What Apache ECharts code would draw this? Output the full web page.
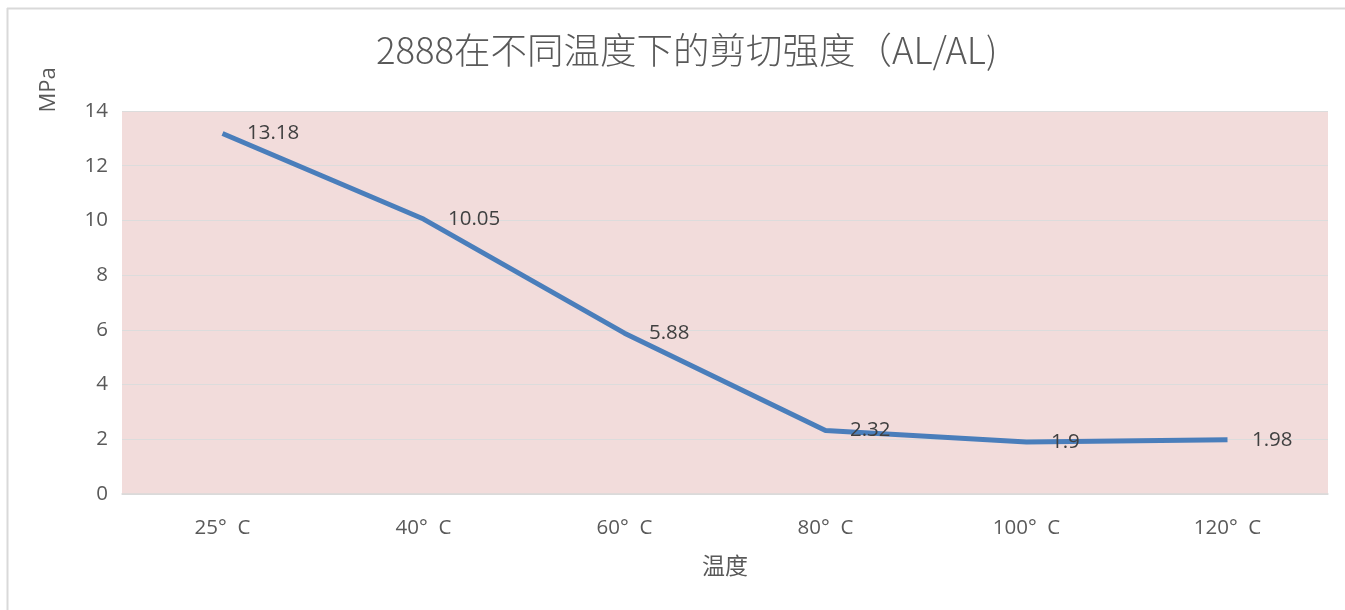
<!DOCTYPE html>
<html>
<head>
<meta charset="utf-8">
<script src="https://cdn.jsdelivr.net/npm/echarts@6/dist/echarts.min.js"></script>
<style>html,body{margin:0;padding:0;background:#fff}#c{width:1345px;height:610px}</style>
</head>
<body>
<div id="c"></div>
<script>
const titleText = '2888在不同温度下的剪切强度（AL/AL)';
const categories = ['25°  C', '40°  C', '60°  C', '80°  C', '100°  C', '120°  C'];
const strength = [13.18, 10.05, 5.88, 2.32, 1.9, 1.98];
const yTicks = { min: 0, max: 14, interval: 2 };
const xName = '温度';
const yName = 'MPa';

const font = '"Open Sans", "Noto Sans CJK SC", sans-serif';
const cjk = '"Noto Sans CJK SC", sans-serif';
const chart = echarts.init(document.getElementById('c'));
chart.setOption({
  backgroundColor: '#ffffff',
  animation: false,
  title: {
    text: titleText, left: 371, top: 27,
    textStyle: { fontFamily: cjk, fontSize: 36.5, fontWeight: 300, color: '#595959' }
  },
  graphic: [
    { type: 'line', shape: { x1: 7.5, y1: 8, x2: 7.5, y2: 610 }, style: { stroke: '#d9d9d9', lineWidth: 2 } },
    { type: 'line', shape: { x1: 7, y1: 8.5, x2: 1345, y2: 8.5 }, style: { stroke: '#d9d9d9', lineWidth: 2 } },
    { type: 'text', x: 49, y: 90, rotation: Math.PI / 2,
      style: { text: yName, fontFamily: font, fontSize: 22, fill: '#595959', align: 'center', verticalAlign: 'middle' } }
  ],
  grid: { left: 122, right: 17, top: 111, bottom: 116, backgroundColor: '#f2dcdb', show: true, borderWidth: 0 },
  xAxis: {
    type: 'category', data: categories, boundaryGap: true,
    name: xName, nameLocation: 'middle', nameGap: 60,
    nameTextStyle: { fontFamily: cjk, fontSize: 23, color: '#595959' },
    axisLine: { lineStyle: { color: '#d9d9d9', width: 1.5 } },
    axisTick: { show: false },
    axisLabel: { margin: 24, fontFamily: font, fontSize: 20.5, color: '#595959' }
  },
  yAxis: {
    type: 'value', min: yTicks.min, max: yTicks.max, interval: yTicks.interval,
    axisLine: { show: false }, axisTick: { show: false },
    axisLabel: { margin: 14, fontFamily: font, fontSize: 20.5, color: '#595959' },
    splitLine: { lineStyle: { color: '#dcdcdc', width: 1.2 } }
  },
  series: [{
    type: 'line', data: strength, symbol: 'circle', symbolSize: 1, showSymbol: true,
    itemStyle: { color: 'rgba(74,126,187,0)' },
    lineStyle: { color: '#4a7ebb', width: 5 },
    label: { show: true, position: 'right', distance: 24, fontFamily: font, fontSize: 20.5, color: '#404040' }
  }]
});
</script>
</body>
</html>
